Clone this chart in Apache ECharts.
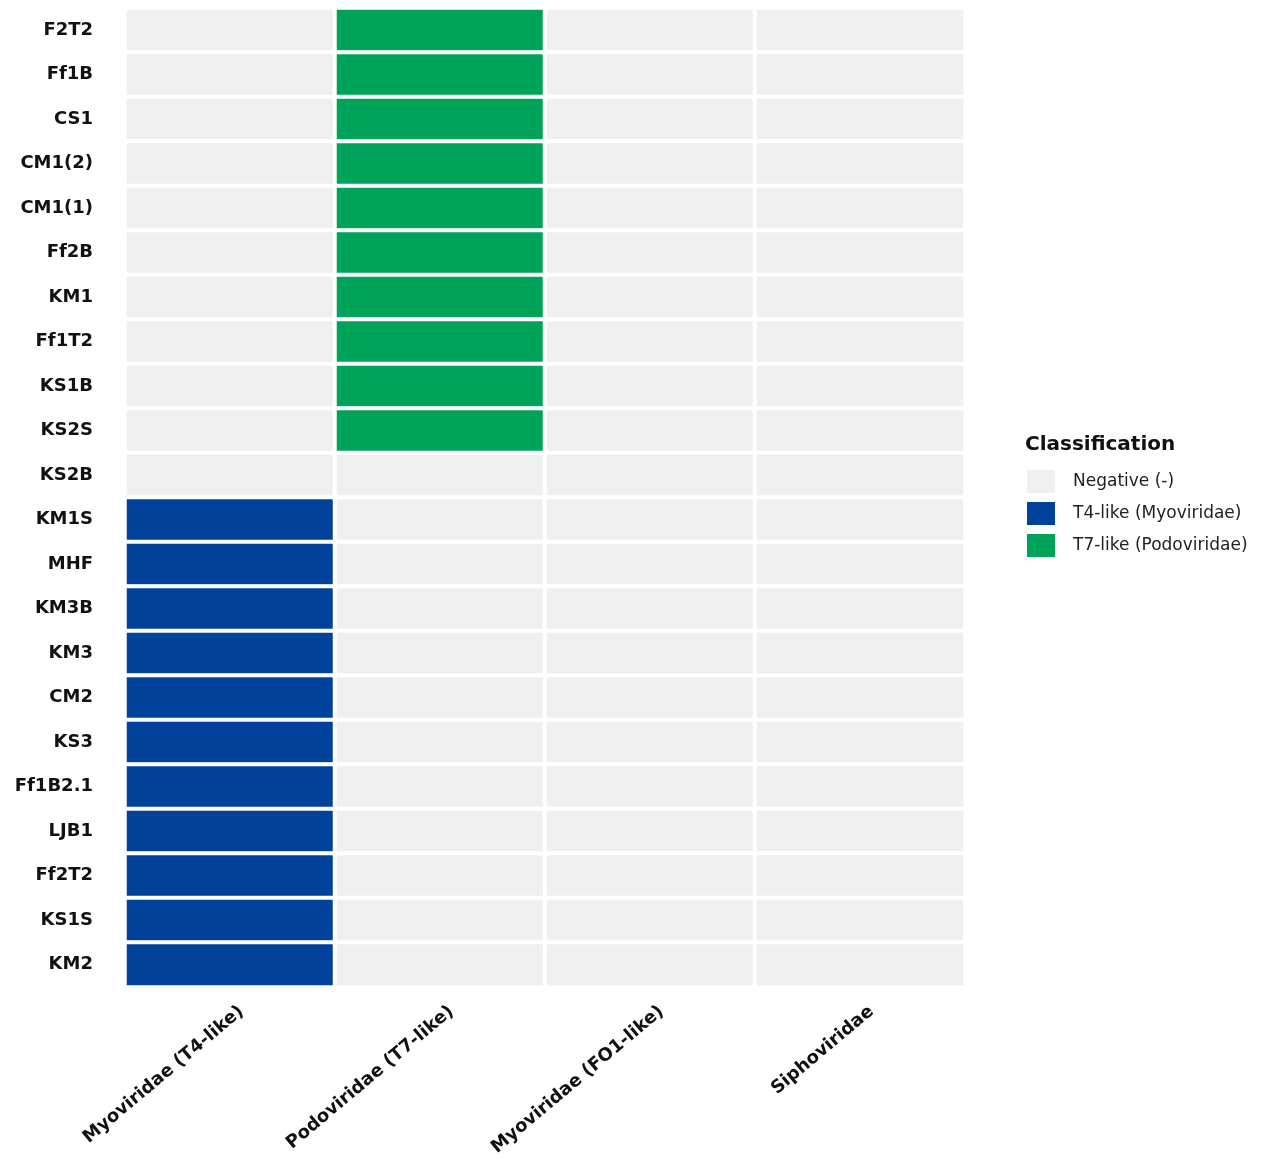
<!DOCTYPE html>
<html>
<head>
<meta charset="utf-8">
<script src="https://cdn.jsdelivr.net/npm/echarts@6/dist/echarts.min.js"></script>
<style>
  html, body { margin: 0; padding: 0; background: #fff; }
  #chart { width: 1262px; height: 1175px; }
</style>
</head>
<body>
<div id="chart"></div>
<script>
// phage isolates, top to bottom
var isolates = ['F2T2', 'Ff1B', 'CS1', 'CM1(2)', 'CM1(1)', 'Ff2B', 'KM1', 'Ff1T2', 'KS1B', 'KS2S', 'KS2B',
    'KM1S', 'MHF', 'KM3B', 'KM3', 'CM2', 'KS3', 'Ff1B2.1', 'LJB1', 'Ff2T2', 'KS1S', 'KM2'];
var families = ['Myoviridae (T4-like)', 'Podoviridae (T7-like)', 'Myoviridae (FO1-like)', 'Siphoviridae'];

// 0 = negative, 1 = T4-like, 2 = T7-like (one value per isolate, same order)
var t4Col    = [0,0,0,0,0,0,0,0,0,0,0, 1,1,1,1,1,1,1,1,1,1,1];
var t7Col    = [2,2,2,2,2,2,2,2,2,2,0, 0,0,0,0,0,0,0,0,0,0,0];
var fo1Col   = [0,0,0,0,0,0,0,0,0,0,0, 0,0,0,0,0,0,0,0,0,0,0];
var siphoCol = [0,0,0,0,0,0,0,0,0,0,0, 0,0,0,0,0,0,0,0,0,0,0];

var classLabels = ['Negative (-)', 'T4-like (Myoviridae)', 'T7-like (Podoviridae)'];
var classColors = ['#efefef', '#00429a', '#00a35a'];

var columns = [t4Col, t7Col, fo1Col, siphoCol];
var cells = [];
columns.forEach(function(col, ci) {
    col.forEach(function(v, ri) {
        cells.push([ci, ri, v]);
    });
});

var font = '"DejaVu Sans", Verdana, sans-serif';
var chart = echarts.init(document.getElementById('chart'), null, { renderer: 'canvas' });

chart.setOption({
    backgroundColor: '#fff',
    animation: false,
    title: {
        text: 'Classification',
        left: 1020,
        top: 430,
        textStyle: { fontFamily: font, fontSize: 20, fontWeight: 'bold', color: '#111' }
    },
    grid: { left: 125, right: 297, top: 8, bottom: 188 },
    xAxis: {
        type: 'category',
        data: families,
        axisLine: { show: false },
        axisTick: { show: false },
        splitLine: { show: false },
        axisLabel: {
            rotate: 40,
            margin: 32,
            interval: 0,
            padding: [0, -15, 0, 0],
            fontFamily: font,
            fontSize: 18,
            fontWeight: 'bold',
            color: '#111'
        }
    },
    yAxis: {
        type: 'category',
        data: isolates,
        inverse: true,
        axisLine: { show: false },
        axisTick: { show: false },
        splitLine: { show: false },
        axisLabel: {
            margin: 32,
            interval: 0,
            fontFamily: font,
            fontSize: 18,
            fontWeight: 'bold',
            color: '#111'
        }
    },
    visualMap: {
        type: 'piecewise',
        dimension: 2,
        orient: 'vertical',
        inverse: true,
        align: 'left',
        left: 1012,
        top: 455,
        itemWidth: 28,
        itemHeight: 23,
        itemGap: 9,
        textGap: 18,
        itemSymbol: 'rect',
        selectedMode: false,
        textStyle: { fontFamily: font, fontSize: 17, color: '#222' },
        pieces: classLabels.map(function(l, i) {
            return { value: i, label: l, color: classColors[i] };
        })
    },
    series: [{
        type: 'heatmap',
        data: cells,
        itemStyle: { borderColor: '#fff', borderWidth: 4 },
        emphasis: { disabled: true }
    }]
});
</script>
</body>
</html>
